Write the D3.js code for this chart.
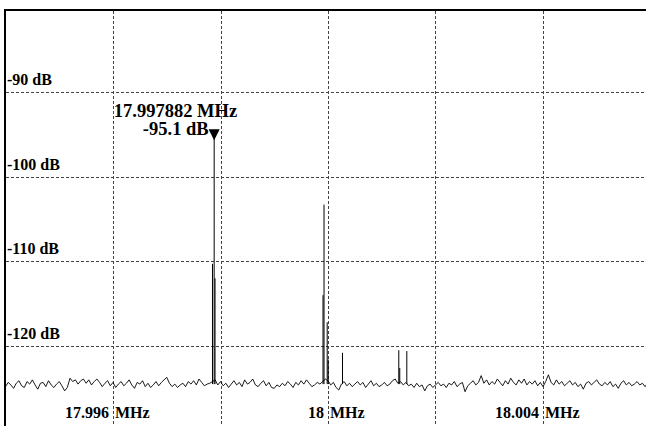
<!DOCTYPE html>
<html>
<head>
<meta charset="utf-8">
<script src="https://cdn.jsdelivr.net/npm/d3@7"></script>
<style>
    body { margin: 0; background: #fff; }
    svg { display: block; }
    .label { font-family: "Liberation Serif", "Times New Roman", serif; font-weight: bold; fill: #000; }
    .grid line { stroke: #444; stroke-width: 1; stroke-dasharray: 3,2; }
</style>
</head>
<body>
<div id="chart"></div>
<script>
// Spectrum data (MHz / dB)
const freqStart = 17.994;
const freqStep = 0.00005;

const noiseDb = [
    -124.8,-124.3,-124.6,-125.0,-124.4,-124.1,-124.7,-124.9,-124.2,-124.5,
    -124.0,-124.6,-125.1,-124.4,-124.3,-124.8,-124.1,-124.6,-124.9,-124.5,
    -124.2,-124.7,-125.3,-124.9,-123.8,-124.2,-124.0,-124.5,-124.1,-123.9,
    -124.4,-124.0,-124.6,-124.2,-123.9,-124.3,-124.8,-124.4,-124.1,-124.7,
    -124.3,-124.9,-124.5,-124.2,-124.7,-124.4,-124.0,-124.6,-125.0,-124.3,
    -124.5,-124.1,-124.8,-124.4,-124.9,-124.6,-124.2,-124.7,-124.3,-124.0,
    -123.7,-124.4,-124.8,-124.5,-124.9,-124.6,-124.4,-124.8,-124.2,-124.5,
    -124.1,-124.6,-123.9,-124.3,-124.7,-124.5,-124.4,-124.2,-124.0,-124.6,
    -124.2,-124.7,-124.4,-124.9,-124.5,-124.1,-124.6,-124.3,-124.8,-124.0,
    -124.5,-124.3,-123.9,-124.6,-124.8,-124.4,-124.1,-124.7,-124.3,-124.9,
    -125.0,-124.6,-124.8,-124.4,-124.7,-124.2,-124.5,-124.9,-124.3,-124.6,
    -124.1,-124.5,-124.0,-124.4,-124.8,-124.6,-124.3,-124.5,-124.2,-123.9,
    -124.1,-124.6,-124.3,-124.9,-125.2,-124.5,-124.2,-124.7,-124.4,-124.8,
    -124.5,-124.2,-124.6,-124.3,-124.9,-124.5,-124.1,-124.7,-124.4,-124.8,
    -124.6,-124.3,-124.7,-124.5,-124.1,-123.9,-124.4,-124.2,-124.6,-124.3,
    -124.7,-124.5,-124.9,-124.4,-124.8,-124.6,-125.3,-124.7,-124.5,-124.9,
    -124.6,-124.3,-124.7,-124.5,-124.9,-124.4,-124.6,-124.2,-124.8,-124.5,
    -124.3,-125.4,-124.7,-124.4,-124.1,-124.6,-124.3,-123.5,-124.4,-124.0,
    -124.6,-124.2,-124.5,-123.9,-124.3,-124.7,-124.1,-124.5,-123.8,-124.3,
    -124.6,-124.0,-124.4,-123.9,-124.6,-124.2,-124.5,-124.1,-124.7,-124.3,
    -124.8,-124.2,-123.4,-124.3,-124.6,-124.0,-124.5,-124.2,-124.7,-124.4,
    -124.1,-124.6,-124.3,-124.8,-124.5,-125.1,-124.4,-124.2,-124.6,-124.3,
    -124.0,-124.5,-124.7,-124.3,-124.6,-124.2,-124.8,-124.5,-125.0,-124.4,
    -124.1,-124.6,-124.3,-124.7,-124.5,-124.2,-124.6,-124.4,-124.8,-124.3,
    -124.5
];

const noiseFloor = -124.5;

// discrete spurs sitting on the noise floor
const spurFreqs = [17.997851, 17.997882, 17.997898, 17.999907, 17.999926, 17.999985, 18.000004, 18.000270, 18.001317, 18.001335, 18.001466];
const spurDb    = [-110.3,    -95.1,     -112.0,    -114.0,    -103.3,    -117.2,    -121.6,    -120.8,    -120.5,    -122.6,    -120.6];

const markerFreq = 17.997882;
const markerDb = -95.1;

const yTicks = [-90, -100, -110, -120];
const xGridTicks = [17.996, 17.998, 18.000, 18.002, 18.004];
const xLabelTicks = [17.996, 18.000, 18.004];
const xLabelText = ['17.996', '18', '18.004'];

const W = 646, H = 426;

const svg = d3.select('#chart')
    .append('svg')
    .attr('width', W)
    .attr('height', H);

const x = d3.scaleLinear()
    .domain([17.994, 18.006])
    .range([5.5, 650.5]);

const y = d3.scaleLinear()
    .domain([-120, -90])
    .range([346, 92]);

// Grid
svg.append('g')
    .attr('class', 'grid')
    .selectAll('line.h')
    .data(yTicks)
    .enter()
    .append('line')
    .attr('x1', 6)
    .attr('x2', W)
    .attr('y1', d => Math.round(y(d)) + 0.5)
    .attr('y2', d => Math.round(y(d)) + 0.5);

svg.select('.grid')
    .selectAll('line.v')
    .data(xGridTicks)
    .enter()
    .append('line')
    .attr('x1', d => Math.round(x(d)) + 0.5)
    .attr('x2', d => Math.round(x(d)) + 0.5)
    .attr('y1', 11)
    .attr('y2', H);

// Frame (right and bottom edges fall outside the picture)
svg.append('rect')
    .attr('x', 5)
    .attr('y', 10)
    .attr('width', 650)
    .attr('height', 430)
    .attr('fill', 'none')
    .attr('stroke', '#000')
    .attr('stroke-width', 2);

// Y labels
svg.selectAll('text.ylab')
    .data(yTicks)
    .enter()
    .append('text')
    .attr('class', 'label ylab')
    .attr('x', 7)
    .attr('y', d => y(d) - 7)
    .style('font-size', '16px')
    .text(d => `${d} dB`);

// X labels: number left of the grid line, unit right of it
const xl = svg.selectAll('g.xlab')
    .data(xLabelTicks)
    .enter()
    .append('g')
    .attr('class', 'xlab');

xl.append('text')
    .attr('class', 'label')
    .attr('x', d => x(d) - 4)
    .attr('y', 418)
    .attr('text-anchor', 'end')
    .style('font-size', '16px')
    .text((d, i) => xLabelText[i]);

xl.append('text')
    .attr('class', 'label')
    .attr('x', d => x(d) + 2)
    .attr('y', 418)
    .style('font-size', '16px')
    .text('MHz');

// Noise trace
const trace = noiseDb.map((v, i) => ({ f: freqStart + i * freqStep, db: v }));

const line = d3.line()
    .x(d => x(d.f))
    .y(d => y(d.db));

svg.append('path')
    .datum(trace)
    .attr('d', line)
    .attr('fill', 'none')
    .attr('stroke', '#000')
    .attr('stroke-width', 0.9);

// Spurs
svg.selectAll('line.spur')
    .data(spurFreqs.map((f, i) => ({ f, db: spurDb[i] })))
    .enter()
    .append('line')
    .attr('class', 'spur')
    .attr('x1', d => x(d.f))
    .attr('x2', d => x(d.f))
    .attr('y1', y(noiseFloor))
    .attr('y2', d => y(d.db))
    .attr('stroke', '#000')
    .attr('stroke-width', 1);

// Marker
const mx = x(markerFreq), my = y(markerDb);

svg.append('path')
    .attr('d', `M${mx - 5.5},${my - 6}L${mx + 5.5},${my - 6}L${mx},${my + 5}Z`)
    .attr('fill', '#000');

svg.append('text')
    .attr('class', 'label')
    .attr('x', mx + 23)
    .attr('y', my - 18)
    .attr('text-anchor', 'end')
    .style('font-size', '18.5px')
    .text(`${markerFreq} MHz`);

svg.append('text')
    .attr('class', 'label')
    .attr('x', mx - 5.5)
    .attr('y', my)
    .attr('text-anchor', 'end')
    .style('font-size', '18.5px')
    .text(`${markerDb} dB`);
</script>
</body>
</html>
